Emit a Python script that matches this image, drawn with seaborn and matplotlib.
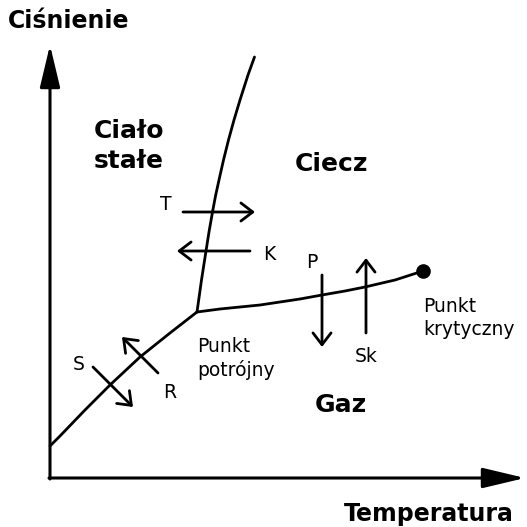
import matplotlib
matplotlib.use('Agg')
import matplotlib.pyplot as plt
import seaborn as sns
import pandas as pd

# wspolrzedne w pikselach obrazka (os y w dol)
sub_x = [50, 60, 85, 110, 140, 170, 197]
sub_y = [446, 436, 410, 385, 357, 333, 312]

melt_x = [197, 201.5, 206, 209, 212.5, 215.5, 219, 223.5, 228.5, 234, 240, 248, 254.5]
melt_y = [312, 280, 251, 232, 212, 196, 180, 160, 140, 120, 100, 75, 57]

vap_x = [197, 220, 240, 260, 280, 300, 322, 345, 365, 395, 423]
vap_y = [312, 309, 307, 305, 302, 299, 295, 291, 287, 280, 271]

critical = (423, 271)

# strzalki przejsc: (start, koniec), etykieta i jej polozenie
arrow_names = ['T', 'K', 'P', 'Sk', 'R', 'S']
arrow_start = [(183, 212), (250, 251), (322, 275), (366, 333), (158, 373), (93, 367)]
arrow_end = [(255, 212), (177, 251), (322, 347), (366, 258), (122, 337), (133, 407)]
arrow_label_pos = [(166, 205), (269, 255), (312, 262), (366, 356), (170, 392), (79, 365)]

region_names = ['Ciało\nstałe', 'Ciecz', 'Gaz']
region_pos = [(129, 146), (332, 164), (341, 405)]

point_names = ['Punkt\npotrójny', 'Punkt\nkrytyczny']
point_pos = [(197, 358), (423, 318)]

sns.set_style('white')
plt.rcParams['font.family'] = ['DejaVu Sans']
plt.rcParams['text.color'] = 'black'

fig = plt.figure(figsize=(5.27, 5.27), dpi=100)
ax = fig.add_axes([0, 0, 1, 1])
ax.set_xlim(0, 527)
ax.set_ylim(527, 0)
ax.axis('off')

for xs, ys in [(sub_x, sub_y), (melt_x, melt_y), (vap_x, vap_y)]:
    df = pd.DataFrame({'x': xs, 'y': ys})
    sns.lineplot(data=df, x='x', y='y', sort=False, color='black', lw=2.0, ax=ax,
                 solid_joinstyle='round', solid_capstyle='round')

ax.plot(*critical, 'o', color='black', ms=9.5)

# osie ze strzalkami
axis_arrow = dict(arrowstyle='-|>,head_length=2.6,head_width=0.62', color='black', lw=2.2,
                  shrinkA=0, shrinkB=0)
ax.annotate('', xy=(50, 45), xytext=(50, 479), arrowprops=axis_arrow)
ax.annotate('', xy=(525, 478), xytext=(49, 478), arrowprops=axis_arrow)
ax.text(8, 28, 'Ciśnienie', fontsize=17, fontweight='bold', va='baseline', ha='left')
ax.text(514, 521, 'Temperatura', fontsize=17, fontweight='bold', va='baseline', ha='right')

for name, s, e, lp in zip(arrow_names, arrow_start, arrow_end, arrow_label_pos):
    ax.annotate('', xy=e, xytext=s,
                arrowprops=dict(arrowstyle='->,head_length=0.85,head_width=0.65', color='black',
                                lw=2.0, shrinkA=0, shrinkB=0))
    ax.text(lp[0], lp[1], name, fontsize=13.5, ha='center', va='center')

for name, p in zip(region_names, region_pos):
    ax.text(p[0], p[1], name, fontsize=18, fontweight='bold', ha='center', va='center',
            linespacing=1.33)

for name, p in zip(point_names, point_pos):
    ax.text(p[0], p[1], name, fontsize=13.5, ha='left', va='center', linespacing=1.25)

fig.savefig('out.png', dpi=100)
